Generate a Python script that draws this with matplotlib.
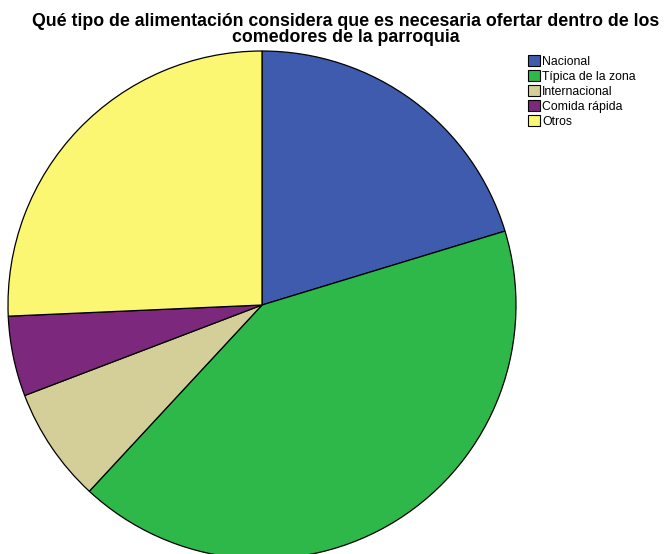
import matplotlib
matplotlib.use("Agg")
import matplotlib.pyplot as plt
from matplotlib.patches import Patch

# Datos (porcentajes)
categorias = ['Nacional', 'Típica de la zona', 'Internacional', 'Comida rápida', 'Otros']
valores = [20.3, 41.6, 7.3, 5.1, 25.7]
colores = ['#3e5bad', '#2eb84a', '#d4ce99', '#7b287d', '#fbf772']

plt.rcParams['font.family'] = ['Liberation Sans', 'DejaVu Sans']

fig = plt.figure(figsize=(6.69, 5.54), dpi=100)
W, H = 669, 554

# eje del pastel en pixeles: centro (262, 305), radio 254
ax = fig.add_axes([8 / W, (H - 559) / H, 508 / W, 508 / H])
ax.pie(valores, colors=colores, startangle=90, counterclock=False,
       wedgeprops=dict(edgecolor='black', linewidth=0.9))
ax.set_xlim(-1, 1)
ax.set_ylim(-1, 1)
ax.set_aspect('equal')
ax.axis('off')

fig.text(346 / W, 1 - 13 / H,
         'Qué tipo de alimentación considera que es necesaria ofertar dentro de los\ncomedores de la parroquia',
         ha='center', va='top', fontsize=12.8, fontweight='bold', linespacing=0.9)

handles = [Patch(facecolor=c, edgecolor='black', linewidth=0.8) for c in colores]
fig.legend(handles, categorias, loc='upper left', bbox_to_anchor=(528 / W, 1 - 55 / H),
           frameon=False, fontsize=8.8, handlelength=1.0, handleheight=1.0,
           handletextpad=0.15, labelspacing=0.2, borderaxespad=0, borderpad=0)

fig.savefig('out.png', dpi=100)
